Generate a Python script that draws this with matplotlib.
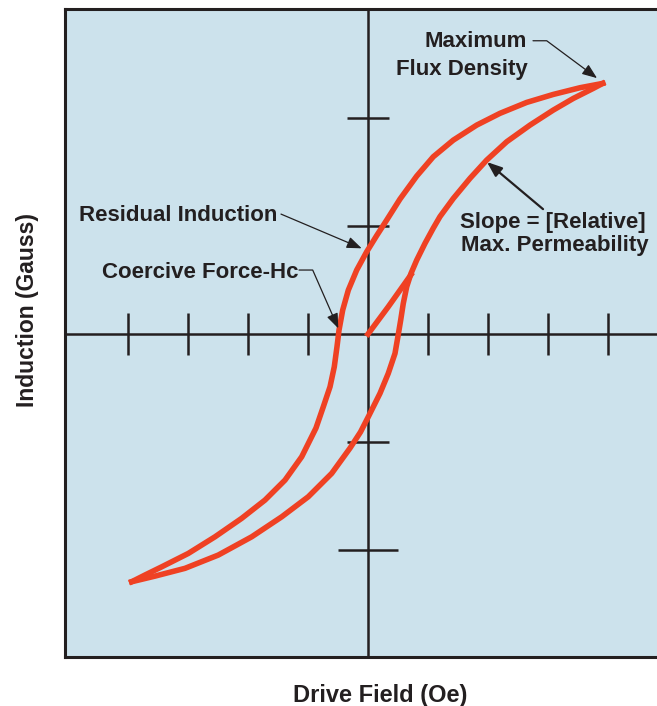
import matplotlib
matplotlib.use('Agg')
import matplotlib.pyplot as plt

plt.rcParams['font.family'] = ['Liberation Sans', 'DejaVu Sans']
plt.rcParams['font.weight'] = 'bold'

# 磁滞回线数据（从图上读取，单位为刻度格）
# 上支：从最大点往左下
upper_h = [3.912, 3.533, 3.088, 2.645, 2.20, 1.812, 1.422, 1.088, 0.812, 0.533,
           0.312, 0.145, -0.022, -0.188, -0.328, -0.422, -0.483, -0.517, -0.562,
           -0.633, -0.745, -0.867, -1.105, -1.383, -1.717, -2.105, -2.55, -2.995,
           -3.438, -3.717, -3.938]
upper_b = [2.321, 2.281, 2.219, 2.145, 2.044, 1.935, 1.796, 1.642, 1.463, 1.250,
           1.056, 0.912, 0.762, 0.593, 0.407, 0.222, 0.037, -0.118, -0.303,
           -0.488, -0.673, -0.870, -1.136, -1.352, -1.537, -1.706, -1.877, -2.031,
           -2.155, -2.231, -2.293]

# 下支：从最小点往右上
lower_h = [-3.938, -3.55, -3.05, -2.495, -1.938, -1.438, -0.995, -0.605, -0.30,
           -0.125, 0.005, 0.20, 0.338, 0.45, 0.505, 0.545, 0.588, 0.645, 0.717,
           0.812, 0.95, 1.088, 1.20, 1.422, 1.70, 1.978, 2.312, 2.70, 3.088, 3.422,
           3.755, 3.912]
lower_b = [-2.293, -2.241, -2.169, -2.046, -1.877, -1.692, -1.506, -1.290, -1.056,
           -0.907, -0.766, -0.549, -0.364, -0.179, -0.003, 0.130, 0.284, 0.438, 0.562,
           0.685, 0.840, 0.981, 1.088, 1.256, 1.442, 1.611, 1.781, 1.935, 2.074, 2.182,
           2.275, 2.321]

# 初始磁化曲线
init_h = [0.0, 0.338, 0.717]
init_b = [0.0, 0.253, 0.55]

# 坐标轴刻度
x_ticks = [-4, -3, -2, -1, 1, 2, 3, 4]
y_ticks = [2, 1, -1, -2]
y_tick_half = [0.35, 0.35, 0.35, 0.5]

red = '#ef4123'
dark = '#231f20'

fig = plt.figure(figsize=(6.57, 7.06), dpi=100)
ax = fig.add_axes([65 / 657, 49 / 706, 603 / 657, 648 / 706])
ax.set_facecolor('#cce2ec')
ax.set_xlim(-5.05, 5.0)
ax.set_ylim(-2.99, 3.01)
ax.set_xticks([])
ax.set_yticks([])
for s in ax.spines.values():
    s.set_linewidth(2.2)
    s.set_color(dark)

# 十字坐标线和刻度
ax.axhline(0, color=dark, lw=1.8, zorder=2)
ax.axvline(0, color=dark, lw=1.8, zorder=2)
ax.vlines(x_ticks, -0.195, 0.195, color=dark, lw=1.8, zorder=2)
for yt, hw in zip(y_ticks, y_tick_half):
    ax.hlines(yt, -hw, hw, color=dark, lw=1.8, zorder=2)

# 曲线
kw = dict(color=red, lw=4, solid_joinstyle='round', zorder=3)
ax.plot(upper_h, upper_b, **kw)
ax.plot(lower_h, lower_b, **kw)
ax.plot(init_h, init_b, **kw)

# 注释
fs = 16
arrow = dict(arrowstyle='-|>,head_length=0.9,head_width=0.35', color=dark, lw=0.9,
             shrinkA=0, shrinkB=0)

ax.text(2.65, 2.655, 'Maximum', ha='right', va='baseline', fontsize=fs, color=dark)
ax.text(2.667, 2.398, 'Flux Density', ha='right', va='baseline', fontsize=fs, color=dark)
ax.annotate('', xy=(3.817, 2.37), xytext=(2.75, 2.716),
            arrowprops=dict(arrow, connectionstyle='angle,angleA=0,angleB=-36.6,rad=0'))

ax.text(-4.817, 1.049, 'Residual Induction', ha='left', va='baseline', fontsize=fs, color=dark)
ax.annotate('', xy=(-0.105, 0.794), xytext=(-1.45, 1.111), arrowprops=arrow)

ax.text(-4.433, 0.516, 'Coercive Force-Hc', ha='left', va='baseline', fontsize=fs, color=dark)
ax.annotate('', xy=(-0.495, 0.053), xytext=(-1.15, 0.593),
            arrowprops=dict(arrow, connectionstyle='angle,angleA=0,angleB=-66.3,rad=0'))

ax.text(1.533, 0.981, 'Slope = [Relative]', ha='left', va='baseline', fontsize=fs, color=dark)
ax.text(1.55, 0.773, 'Max. Permeability', ha='left', va='baseline', fontsize=fs, color=dark)
ax.annotate('', xy=(1.983, 1.593), xytext=(2.917, 1.157),
            arrowprops=dict(arrow, lw=1.6))

fig.text(380 / 657, 4.3 / 706, 'Drive Field (Oe)', ha='center', va='baseline',
         fontsize=17, color=dark)
fig.text(28 / 657, (706 - 310) / 706, 'Induction (Gauss)', ha='center', va='center',
         rotation=90, fontsize=16.5, color=dark)

fig.savefig('out.png', dpi=100)
